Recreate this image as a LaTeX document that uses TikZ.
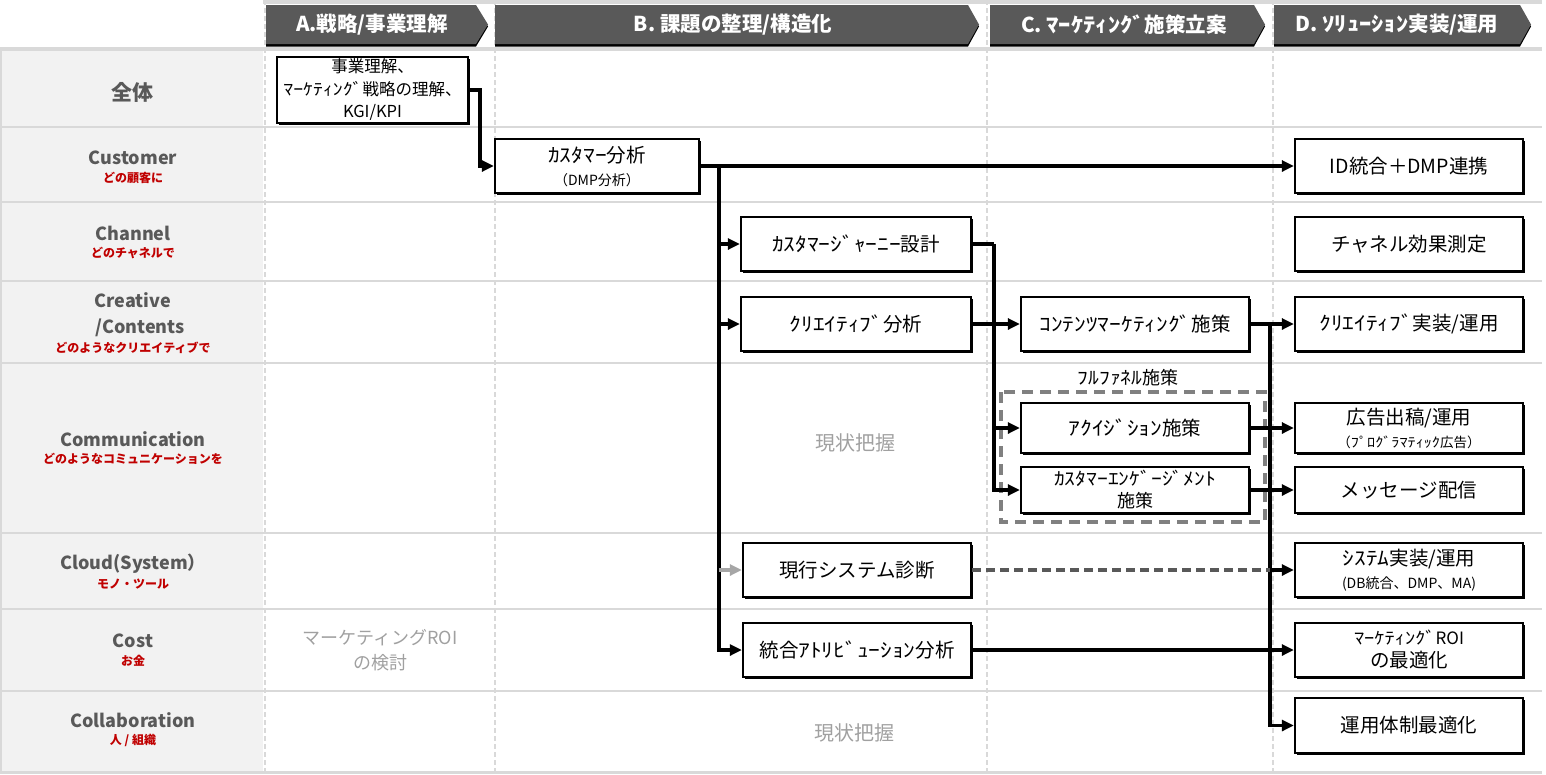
\documentclass[tikz,border=0pt]{standalone}
\usepackage{fontspec}
\setmainfont{Noto Sans CJK JP}
\newfontfamily\hw[FakeStretch=1.2]{Noto Sans CJK JP}
\usetikzlibrary{arrows.meta,shadows}
\definecolor{hdr}{HTML}{595959}
\definecolor{gridc}{HTML}{D9D9D9}
\definecolor{lab}{HTML}{595959}
\definecolor{redl}{HTML}{C00000}
\definecolor{leftfill}{HTML}{F2F2F2}
\definecolor{ghostc}{HTML}{A0A0A0}
\definecolor{dashg}{HTML}{808080}
\definecolor{grayarrow}{HTML}{A6A6A6}
\begin{document}
\begin{tikzpicture}[x=1pt,y=-1pt,
  box/.style={draw=black, line width=2.4pt, fill=white, align=center, inner sep=0pt,
    font=\fontsize{19.5}{23}\selectfont,
    drop shadow={shadow xshift=1.6pt,shadow yshift=-1.6pt,fill=black,opacity=1}},
  rbox/.style={box, minimum width=228pt, minimum height=54pt},
  hdrtext/.style={text=white, inner sep=0pt, font=\bfseries\fontsize{20.5}{22}\selectfont},
  lbl/.style={text=lab, inner sep=0pt, font=\bfseries\fontsize{18}{20}\selectfont},
  lred/.style={text=redl, inner sep=0pt, font=\bfseries\fontsize{12}{14}\selectfont},
  ghost/.style={text=ghostc, inner sep=0pt, align=center, font=\fontsize{18}{25}\selectfont},
  conn/.style={line width=3.5pt, line join=miter},
  arr/.style={conn, -{Triangle[length=12pt,width=11pt]}},
  garr/.style={conn, draw=grayarrow, -{Triangle[length=12pt,width=11pt]}},
  dconn/.style={line width=3.5pt, draw=hdr, dash pattern=on 9pt off 5pt}
]
\useasboundingbox (0,0) rectangle (1546,774);
% background grid
\fill[leftfill] (0,49) rectangle (263,773);
\fill[gridc] (263,0) rectangle (1542,4);
\foreach \x in {265,495,987,1273}
  \draw[gridc, line width=1.5pt, dash pattern=on 5pt off 3pt] (\x,0) -- (\x,773);
\draw[gridc, line width=4pt] (0,49) -- (1542,49);
\foreach \y in {127,202,281,363,533,609,691}
  \draw[gridc, line width=2.5pt] (0,\y) -- (1542,\y);
\draw[gridc, line width=3pt] (0,772.5) -- (1542,772.5);
\draw[gridc, line width=2.5pt] (1.2,49) -- (1.2,773);
% header chevrons
\foreach \L/\R/\T in {266/476/488, 495/968/979, 990/1254/1265, 1274/1520/1531} {
  \fill[black] (\L,7) -- (\R,7) -- (\T,26.5) -- (\R,46.5) -- (\L,46.5) -- cycle;
  \fill[hdr] (\L,5) -- (\R,5) -- (\T,24.5) -- (\R,44) -- (\L,44) -- cycle;
}
\node[hdrtext] (hA) at (372,25) {A.戦略/事業理解};
\node[hdrtext] (hB) at (733,25) {B. 課題の整理/構造化};
\node[hdrtext] (hC) at (1124,25) {C. {\hw ﾏｰｹﾃｨﾝｸﾞ}施策立案};
\node[hdrtext] (hD) at (1397,25) {D. {\hw ｿﾘｭｰｼｮﾝ}実装/運用};
% row labels
\node[lbl, font=\bfseries\fontsize{21}{24}\selectfont] (rAll) at (132,92) {全体};
\node[lbl] (rCu) at (133,158) {Customer};
\node[lred] (rCuS) at (133,178) {どの顧客に};
\node[lbl] (rCh) at (133,233) {Channel};
\node[lred] (rChS) at (133,253) {どのチャネルで};
\node[lbl] (rCr) at (133,300) {Creative};
\node[lbl] (rCr2) at (140,328) {/Contents};
\node[lred] (rCrS) at (133,348) {どのようなクリエイティブで};
\node[lbl] (rCo) at (133,439) {Communication};
\node[lred] (rCoS) at (133,459) {どのようなコミュニケーションを};
\node[lbl] (rCl) at (133,564) {Cloud(System）};
\node[lred] (rClS) at (133,584) {モノ・ツール};
\node[lbl] (rCs) at (133,641) {Cost};
\node[lred] (rCsS) at (133,661) {お金};
\node[lbl] (rCb) at (133,720) {Collaboration};
\node[lred] (rCbS) at (133,740) {人 / 組織};
% ghost texts
\node[ghost] (g3) at (380,650) {マーケティングROI\\の検討};
\node[ghost, font=\fontsize{20}{24}\selectfont] (g1) at (855,443) {現状把握};
\node[ghost, font=\fontsize{20}{24}\selectfont] (g2) at (854,733) {現状把握};
% full funnel group
\draw[dashg, line width=3.6pt, dash pattern=on 11pt off 7pt] (1001,392) rectangle (1265,522);
\node[inner sep=0pt, font=\fontsize{18}{20}\selectfont] (ffl) at (1128,378) {{\hw ﾌﾙﾌｧﾈﾙ}施策};
% boxes
\node[box, minimum width=191pt, minimum height=66pt, font=\fontsize{16.5}{22.5}\selectfont] (biz) at (372.5,90) {事業理解、\\{\hw ﾏｰｹﾃｨﾝｸﾞ}戦略の理解、\\KGI/KPI};
\node[box, minimum width=204pt, minimum height=54pt] (cust) at (597,166) {{\hw ｶｽﾀﾏｰ}分析\\{\fontsize{14}{16}\selectfont （DMP分析）}};
\node[rbox] (idint) at (1409,166) {ID統合＋DMP連携};
\node[rbox] (chm) at (1409,244) {チャネル効果測定};
\node[box, minimum width=230pt, minimum height=54pt] (cj) at (856,244) {{\hw ｶｽﾀﾏｰｼﾞｬｰﾆｰ}設計};
\node[box, minimum width=230pt, minimum height=54pt] (cra) at (856,324) {{\hw ｸﾘｴｲﾃｨﾌﾞ}分析};
\node[rbox] (cmk) at (1135,324) {{\hw ｺﾝﾃﾝﾂﾏｰｹﾃｨﾝｸﾞ}施策};
\node[rbox, minimum height=50pt] (acq) at (1135,428) {{\hw ｱｸｲｼﾞｼｮﾝ}施策};
\node[rbox, minimum height=46pt, font=\fontsize{18}{22}\selectfont] (eng) at (1135,490) {{\hw ｶｽﾀﾏｰｴﾝｹﾞｰｼﾞﾒﾝﾄ}\\施策};
\node[rbox] (crimpl) at (1409,324) {{\hw ｸﾘｴｲﾃｨﾌﾞ}実装/運用};
\node[rbox, minimum height=50pt] (ad) at (1409,428) {広告出稿/運用\\{\fontsize{13.5}{15}\selectfont （{\hw ﾌﾟﾛｸﾞﾗﾏﾃｨｯｸ}広告）}};
\node[rbox, minimum height=46pt] (msg) at (1409,490) {メッセージ配信};
\node[rbox] (sysd) at (857,570) {現行システム診断};
\node[rbox] (attr) at (857,650) {統合{\hw ｱﾄﾘﾋﾞｭｰｼｮﾝ}分析};
\node[rbox] (sysimpl) at (1409,570) {{\hw ｼｽﾃﾑ}実装/運用\\{\fontsize{14}{16}\selectfont (DB統合、DMP、MA)}};
\node[rbox] (roi) at (1409,650) {{\fontsize{17}{20}\selectfont {\hw ﾏｰｹﾃｨﾝｸﾞ}ROI}\\の最適化};
\node[rbox, minimum height=55pt] (ops) at (1409,725.5) {運用体制最適化};
% junction coordinates
\coordinate (j1) at (480,166);
\coordinate (t1) at (719,166);
\coordinate (t3) at (719,570);
\coordinate (u1) at (994,244);
\coordinate (v1) at (1270,324);
\coordinate (v2) at (1270,570);
% connectors
\draw[arr] (biz.east) -| (j1) -- (cust.west);
\draw[arr] (cust.east) -- (idint.west);
\draw[arr] (t1) |- (cj.west);
\draw[arr] (t1) |- (cra.west);
\draw[arr] (t1) |- (attr.west);
\draw[garr] (t3) -- (sysd.west);
\draw[conn] (cj.east) -- (u1);
\draw[arr] (u1) |- (acq.west);
\draw[arr] (u1) |- (eng.west);
\draw[arr] (cra.east) -- (cmk.west);
\draw[arr] (cmk.east) -- (crimpl.west);
\draw[arr] (acq.east) -- (ad.west);
\draw[arr] (eng.east) -- (msg.west);
\draw[arr] (v1) |- (ops.west);
\draw[dconn] (sysd.east) -- (v2);
\draw[arr] (v2) -- (sysimpl.west);
\draw[arr] (attr.east) -- (roi.west);
\end{tikzpicture}
\end{document}
